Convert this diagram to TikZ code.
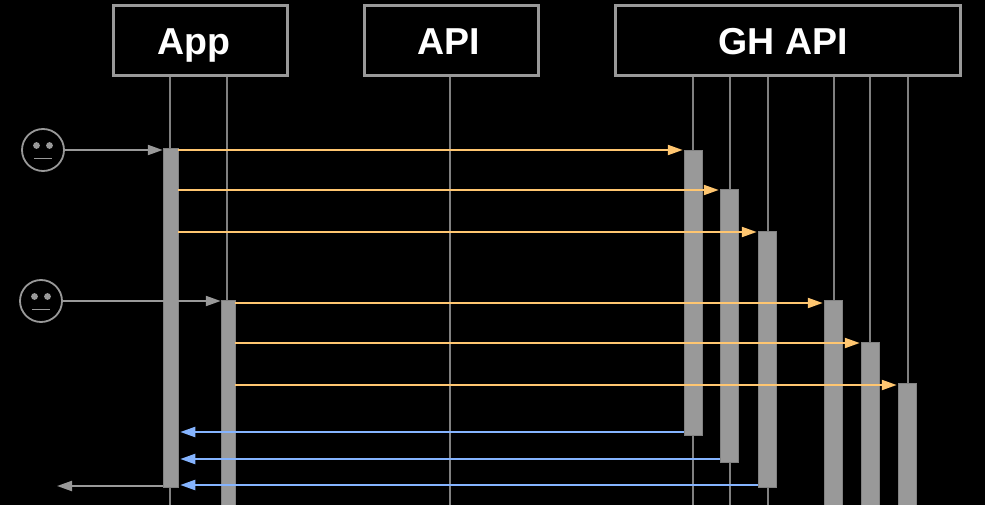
\documentclass[tikz,border=0pt]{standalone}
\usepackage{fontspec}
\setmainfont{Liberation Sans}
\usetikzlibrary{arrows.meta}
\definecolor{gr}{HTML}{999999}
\definecolor{life}{HTML}{808080}
\definecolor{orng}{HTML}{FFC670}
\definecolor{blu}{HTML}{85B4FF}
\tikzset{
  headbox/.style={draw=gr,line width=3pt,fill=black,inner sep=0pt,minimum height=70pt,text=white,text height=29pt,text depth=2pt,font=\fontsize{37.5}{40}\selectfont\bfseries},
  lifeline/.style={draw=life,line width=2pt},
  bar/.style={draw=gr!85!black,line width=0.5pt,fill=gr,inner sep=0pt},
  face/.style={circle,draw=gr,line width=1.8pt,minimum size=42pt,inner sep=0pt},
  eye/.style={fill=gr},
  mouth/.style={draw=gr,line width=1.3pt},
  tip/.style={-{Triangle[length=15pt,width=10pt]}},
  callg/.style={tip,draw=gr,line width=2.2pt,color=gr},
  callo/.style={tip,draw=orng,line width=2.2pt,color=orng},
  callb/.style={tip,draw=blu,line width=2.2pt,color=blu},
}
\begin{document}
\begin{tikzpicture}[x=1pt,y=-1pt]
\useasboundingbox (0,0) rectangle (985,505);
\fill[black] (0,0) rectangle (985,505);
% headers
\node[headbox,minimum width=174pt] (app) at (200,41) {App\hspace*{13pt}};
\node[headbox,minimum width=174pt] (api) at (451,41) {API\hspace*{4pt}};
\node[headbox,minimum width=345pt] (gh) at (787.5,41) {GH API\hspace*{9pt}};
% lifeline ends
\coordinate (l1) at (170,505);
\coordinate (l2) at (227,505);
\coordinate (l3) at (450,505);
\coordinate (l4) at (693,505);
\coordinate (l5) at (730,505);
\coordinate (l6) at (768,505);
\coordinate (l7) at (834,505);
\coordinate (l8) at (870,505);
\coordinate (l9) at (908,505);
\draw[lifeline] (l1 |- app.south) -- (l1);
\draw[lifeline] (l2 |- app.south) -- (l2);
\draw[lifeline] (l3 |- api.south) -- (l3);
\draw[lifeline] (l4 |- gh.south) -- (l4);
\draw[lifeline] (l5 |- gh.south) -- (l5);
\draw[lifeline] (l6 |- gh.south) -- (l6);
\draw[lifeline] (l7 |- gh.south) -- (l7);
\draw[lifeline] (l8 |- gh.south) -- (l8);
\draw[lifeline] (l9 |- gh.south) -- (l9);
% activation bars
\node[bar,minimum width=15pt,minimum height=339pt] (b1) at (170.5,317.5) {};
\node[bar,minimum width=14pt,minimum height=206pt] (b2) at (228,403) {};
\node[bar,minimum width=18.5pt,minimum height=285pt] (g1) at (693.25,292.5) {};
\node[bar,minimum width=18.5pt,minimum height=273pt] (g2) at (729.25,325.5) {};
\node[bar,minimum width=18.5pt,minimum height=256pt] (g3) at (767.25,359) {};
\node[bar,minimum width=18.5pt,minimum height=206pt] (g4) at (833.25,403) {};
\node[bar,minimum width=18.5pt,minimum height=164pt] (g5) at (870.25,424) {};
\node[bar,minimum width=18.5pt,minimum height=123pt] (g6) at (907.25,444.5) {};
% faces
\node[face] (f1) at (43,150) {};
\node[face] (f2) at (41,301) {};
\fill[eye] ([shift={(-6.5,-4.5)}]f1.center) circle (3.4pt);
\fill[eye] ([shift={(6.5,-4.5)}]f1.center) circle (3.4pt);
\draw[mouth] ([shift={(-9,8.5)}]f1.center) -- ([shift={(9,8.5)}]f1.center);
\fill[eye] ([shift={(-6.5,-4.5)}]f2.center) circle (3.4pt);
\fill[eye] ([shift={(6.5,-4.5)}]f2.center) circle (3.4pt);
\draw[mouth] ([shift={(-9,8.5)}]f2.center) -- ([shift={(9,8.5)}]f2.center);
% row levels
\coordinate (r1) at (0,150);
\coordinate (r2) at (0,190);
\coordinate (r3) at (0,232);
\coordinate (r4) at (0,303);
\coordinate (r5) at (0,343);
\coordinate (r6) at (0,385);
\coordinate (r7) at (0,432);
\coordinate (r8) at (0,459);
\coordinate (r9) at (0,485);
\coordinate (out) at (57,486);
% connectors
\draw[callg] (f1.east) -- (b1.west |- f1.east);
\draw[callg] (f2.east) -- (b2.west |- f2.east);
\draw[callo] (b1.east |- r1) -- ([xshift=-1pt]g1.west |- r1);
\draw[callo] (b1.east |- r2) -- ([xshift=-1pt]g2.west |- r2);
\draw[callo] (b1.east |- r3) -- ([xshift=-1pt]g3.west |- r3);
\draw[callo] (b2.east |- r4) -- ([xshift=-1pt]g4.west |- r4);
\draw[callo] (b2.east |- r5) -- ([xshift=-1pt]g5.west |- r5);
\draw[callo] (b2.east |- r6) -- ([xshift=-1pt]g6.west |- r6);
\draw[callb] (g1.west |- r7) -- ([xshift=2pt]b1.east |- r7);
\draw[callb] (g2.west |- r8) -- ([xshift=2pt]b1.east |- r8);
\draw[callb] (g3.west |- r9) -- ([xshift=2pt]b1.east |- r9);
\draw[callg] (b1.west |- out) -- (out);
\end{tikzpicture}
\end{document}
